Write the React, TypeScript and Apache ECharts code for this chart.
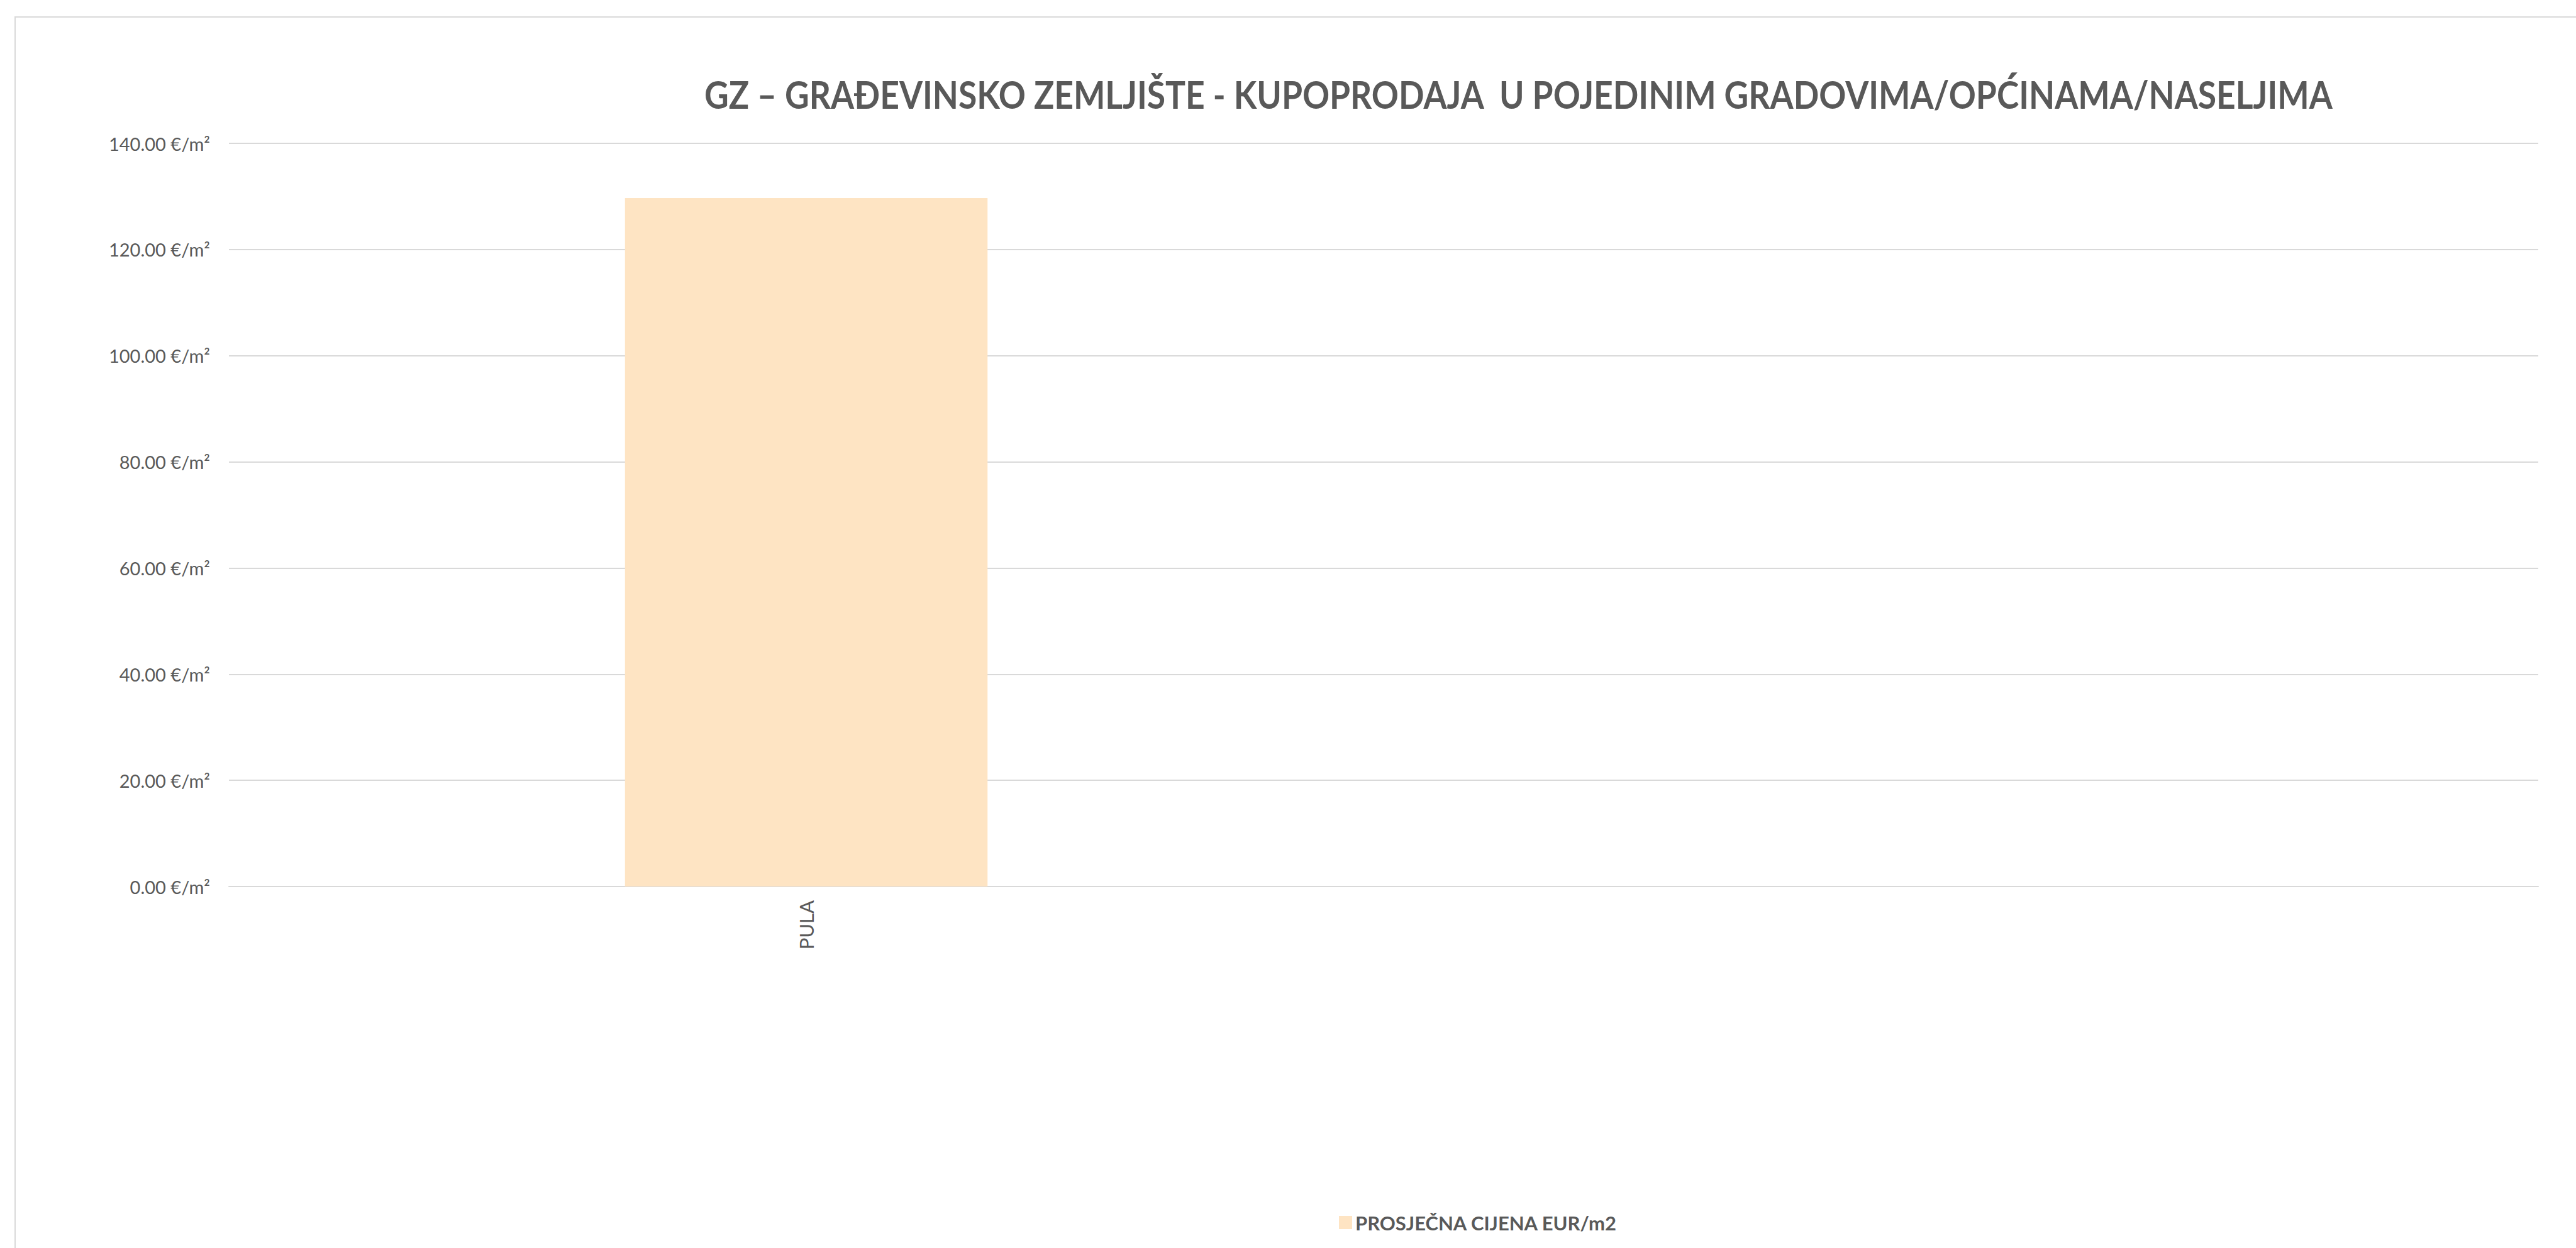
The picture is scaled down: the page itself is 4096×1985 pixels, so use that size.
import React, { useEffect, useRef } from "react";
import * as echarts from "echarts";

const categories = ["PULA", ""];
const prices = [129.7, null];
const yTicks = { min: 0, max: 140, interval: 20 };
const titleText = "GZ – GRAĐEVINSKO ZEMLJIŠTE - KUPOPRODAJA  U POJEDINIM GRADOVIMA/OPĆINAMA/NASELJIMA";
const seriesName = "PROSJEČNA CIJENA EUR/m2";

const W = 4096;
const H = 1985;
const TXT = "#595959";
const GRID = "#d9d9d9";
const FONT = "Lato, 'Open Sans', sans-serif";

export default function App() {
  const ref = useRef<HTMLDivElement>(null);
  useEffect(() => {
    document.body.style.margin = "0";
    const chart = echarts.init(ref.current!, null, { renderer: "svg", width: W, height: H });
    chart.setOption({
      animation: false,
      backgroundColor: "#ffffff",
      textStyle: { fontFamily: FONT },
      legend: {
        left: 2124,
        top: 1924,
        itemWidth: 21,
        itemHeight: 21,
        itemGap: 10,
        icon: "rect",
        textStyle: { color: TXT, fontSize: 31, fontWeight: "bold", fontFamily: FONT },
        data: [seriesName],
      },
      grid: { left: 364, right: 60, top: 228, bottom: H - 1410, containLabel: false },
      xAxis: {
        type: "category",
        data: categories,
        axisLine: { show: true, lineStyle: { color: GRID, width: 2 } },
        axisTick: { show: false },
        axisLabel: {
          rotate: 90,
          color: TXT,
          fontSize: 31,
          fontFamily: FONT,
          margin: 22,
          interval: 0,
        },
      },
      yAxis: {
        type: "value",
        min: yTicks.min,
        max: yTicks.max,
        interval: yTicks.interval,
        axisLine: { show: false },
        axisTick: { show: false },
        splitLine: { lineStyle: { color: GRID, width: 2 } },
        axisLabel: {
          color: TXT,
          fontSize: 29,
          fontFamily: FONT,
          margin: 30,
          formatter: (v: number) => v.toFixed(2) + " €/m²",
        },
      },
      series: [
        {
          name: seriesName,
          type: "bar",
          data: prices,
          barWidth: "31.4%",
          itemStyle: { color: "#fee4c3" },
        },
      ],
      graphic: [
        {
          type: "rect",
          shape: { x: 24, y: 27, width: W + 10, height: H + 10 },
          style: { fill: "none", stroke: GRID, lineWidth: 2 },
          silent: true,
        },
        {
          type: "text",
          x: 1120,
          y: 149,
          scaleX: 0.861,
          silent: true,
          style: {
            text: titleText,
            fill: TXT,
            fontSize: 62,
            fontWeight: "bold",
            fontFamily: FONT,
            textAlign: "left",
            textVerticalAlign: "middle",
          },
        },
      ],
    });
    return () => chart.dispose();
  }, []);
  return <div ref={ref} style={{ position: "fixed", left: 0, top: 0, width: W, height: H }} />;
}
